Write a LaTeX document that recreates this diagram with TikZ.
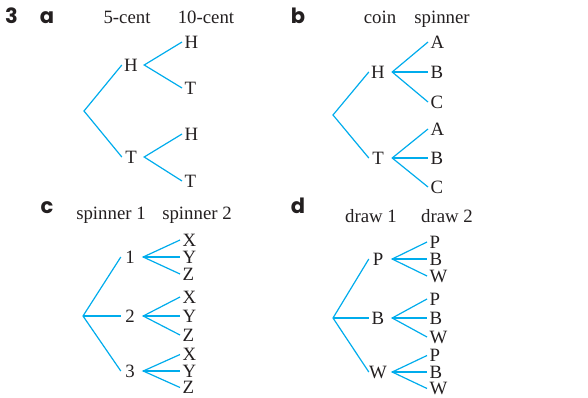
\documentclass[tikz,border=0pt]{standalone}
\usepackage{fontspec}
\setmainfont{Liberation Serif}
\newfontfamily\lblfont{Poppins}[BoldFont={* Bold}]
\definecolor{treeblue}{RGB}{0,172,236}
\definecolor{ink}{RGB}{35,31,32}
\begin{document}
\begin{tikzpicture}[x=1pt,y=-1pt,
  every node/.style={font=\fontsize{18.8}{19}\selectfont, text=ink},
  br/.style={draw=treeblue, line width=1.2pt},
  lvone/.style={inner sep=0pt, minimum width=18pt},
  lvtwo/.style={anchor=west, inner xsep=2.5pt, inner ysep=0pt},
  hdr/.style={anchor=base, inner sep=0pt},
  partlbl/.style={anchor=base, inner sep=0pt, font=\lblfont\bfseries\fontsize{21}{21}\selectfont, text=ink}]
\useasboundingbox (0,0) rectangle (588,397);

% ---------- part a ----------
\node[partlbl] (n3) at (11.5,23) {3};
\node[partlbl] (la) at (47,23) {a};
\node[hdr] (ha1) at (127,23) {5-cent};
\node[hdr] (ha2) at (206,23) {10-cent};
\coordinate (ra) at (84,111);
\node[lvone] (aH) at (131,65) {H};
\node[lvone] (aT) at (131,157) {T};
\node[lvtwo] (aHH) at (182,42) {H};
\node[lvtwo] (aHT) at (182,88) {T};
\node[lvtwo] (aTH) at (182,134) {H};
\node[lvtwo] (aTT) at (182,181) {T};
\draw[br] (aH.west) -- (ra) -- (aT.west);
\draw[br] (aHH.west) -- ([xshift=4pt]aH.east) -- (aHT.west);
\draw[br] (aTH.west) -- ([xshift=4pt]aT.east) -- (aTT.west);

% ---------- part b ----------
\node[partlbl] (lb) at (298,23) {b};
\node[hdr] (hb1) at (380,23) {coin};
\node[hdr] (hb2) at (442,23) {spinner};
\coordinate (rb) at (333,115);
\node[lvone] (bH) at (378,72) {H};
\node[lvone] (bT) at (378,158) {T};
\node[lvtwo] (bHA) at (428,42) {A};
\node[lvtwo] (bHB) at (428,72) {B};
\node[lvtwo] (bHC) at (428,102) {C};
\node[lvtwo] (bTA) at (428,129) {A};
\node[lvtwo] (bTB) at (428,158) {B};
\node[lvtwo] (bTC) at (428,187) {C};
\draw[br] (bH.west) -- (rb) -- (bT.west);
\draw[br] (bHA.west) -- ([xshift=5pt]bH.east) -- (bHC.west);
\draw[br] ([xshift=5pt]bH.east) -- (bHB.west);
\draw[br] (bTA.west) -- ([xshift=5pt]bT.east) -- (bTC.west);
\draw[br] ([xshift=5pt]bT.east) -- (bTB.west);

% ---------- part c ----------
\node[partlbl] (lc) at (47,213) {c};
\node[hdr] (hc1) at (111,219) {spinner 1};
\node[hdr] (hc2) at (197,219) {spinner 2};
\coordinate (rc) at (83,316);
\node[lvone] (c1) at (130,257) {1};
\node[lvone] (c2) at (130,316) {2};
\node[lvone] (c3) at (130,371) {3};
\foreach \p/\y/\d in {1/257/17,2/316/19,3/371/16.5}{
  \node[lvtwo] (c\p X) at (180,\y-\d) {X};
  \node[lvtwo] (c\p Y) at (180,\y) {Y};
  \node[lvtwo] (c\p Z) at (180,\y+\d) {Z};
  \draw[br] (c\p X.west) -- ([xshift=4pt]c\p.east) -- (c\p Z.west);
  \draw[br] ([xshift=4pt]c\p.east) -- (c\p Y.west);
}
\draw[br] (c1.west) -- (rc) -- (c3.west);
\draw[br] (rc) -- (c2.west);

% ---------- part d ----------
\node[partlbl] (ld) at (298,213) {d};
\node[hdr] (hd1) at (371,222) {draw 1};
\node[hdr] (hd2) at (447,222) {draw 2};
\coordinate (rd) at (333,318);
\node[lvone] (dP) at (378,259) {P};
\node[lvone] (dB) at (378,318) {B};
\node[lvone] (dW) at (378,372) {W};
\foreach \p/\y/\d in {P/259/17,B/318/19,W/372/16.5}{
  \node[lvtwo] (d\p P) at (427,\y-\d) {P};
  \node[lvtwo] (d\p B) at (427,\y) {B};
  \node[lvtwo] (d\p W) at (427,\y+\d) {W};
  \draw[br] (d\p P.west) -- ([xshift=5pt]d\p.east) -- (d\p W.west);
  \draw[br] ([xshift=5pt]d\p.east) -- (d\p B.west);
}
\draw[br] (dP.west) -- (rd) -- (dW.west);
\draw[br] (rd) -- (dB.west);
\end{tikzpicture}
\end{document}
